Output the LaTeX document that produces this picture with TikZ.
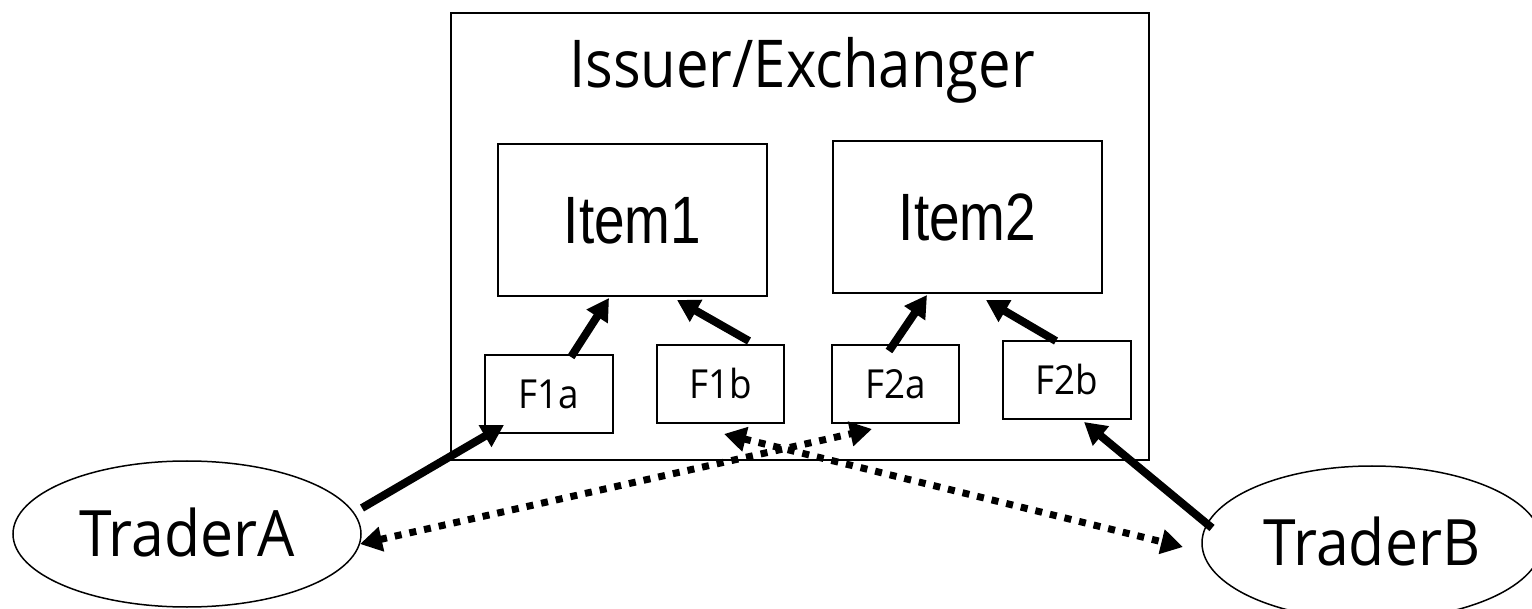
\documentclass[tikz,border=0pt]{standalone}
\usepackage{fontspec}
\setmainfont{Open Sans}
\newfontfamily\lblfont[FakeStretch=0.92]{Open Sans}
\newfontfamily\headfont[FakeStretch=0.88]{Open Sans}
\newfontfamily\itemfont[FakeStretch=0.82]{Liberation Sans}
\usetikzlibrary{shapes.geometric,arrows.meta,calc}

\begin{document}
\begin{tikzpicture}[x=1pt,y=-1pt,
  box/.style={draw,line width=2pt,inner sep=0pt,rectangle},
  fbox/.style={box,minimum width=128pt,minimum height=78pt,
    font=\lblfont\fontsize{40}{40}\selectfont,text height=29pt,text depth=0pt},
  itembox/.style={box,minimum width=269pt,minimum height=152pt,
    font=\itemfont\fontsize{67}{67}\selectfont,text height=48pt,text depth=0pt},
  trader/.style={draw,line width=1.5pt,ellipse,inner sep=0pt,
    font=\lblfont\fontsize{64}{64}\selectfont,text height=45pt,text depth=0pt},
  flow/.style={line width=8pt,-{Triangle[length=22pt,width=24pt]}},
  swap/.style={line width=7pt,dash pattern=on 7pt off 8pt,
    {Triangle[length=22pt,width=24pt]}-{Triangle[length=22pt,width=24pt]}},
]
\useasboundingbox (0,0) rectangle (1532,609);

% issuer / exchanger frame
\node[box,minimum width=698pt,minimum height=447pt] (issuer) at (800,236.5) {};
\node[font=\headfont\fontsize{66}{66}\selectfont,anchor=base] (title) at (802,88) {Issuer/Exchanger};

% items
\node[itembox] (item1) at (632.5,220) {Item1};
\node[itembox] (item2) at (967.5,217) {Item2};

% function boxes
\node[fbox] (f1a) at (549,394) {F1a};
\node[fbox,minimum width=127pt] (f1b) at (720.5,384) {F1b};
\node[fbox,minimum width=127pt] (f2a) at (895.5,384) {F2a};
\node[fbox] (f2b) at (1067,380) {F2b};

% traders
\node[trader,minimum width=348pt,minimum height=146pt] (ta) at (187,534) {TraderA};
\node[trader,minimum width=340pt,minimum height=154pt] (tb) at (1372,543) {TraderB};

% calls into the items
\draw[flow] ($(f1a.north west)+(87,3)$) -- ($(item1.south west)+(112,1)$);
\draw[flow] ($(f1b.north west)+(93,-3)$) -- ($(item1.south west)+(180,3)$);
\draw[flow] ($(f2a.north west)+(58,7)$) -- ($(item2.south west)+(95,1)$);
\draw[flow] ($(f2b.north west)+(54,1)$) -- ($(item2.south west)+(154,6)$);

% traders invoking functions
\draw[flow] ($(ta.center)+(175,-26)$) -- ($(f1a.south west)+(20,-9)$);
\draw[flow] ($(tb.center)+(-160,-15)$) -- ($(f2b.south west)+(82,2)$);

% exchanges
\draw[swap] ($(ta.center)+(173,10)$) -- ($(f2a.south west)+(41,5)$);
\draw[swap] ($(f1b.south west)+(68,10)$) -- ($(tb.center)+(-189,4)$);
\end{tikzpicture}
\end{document}
